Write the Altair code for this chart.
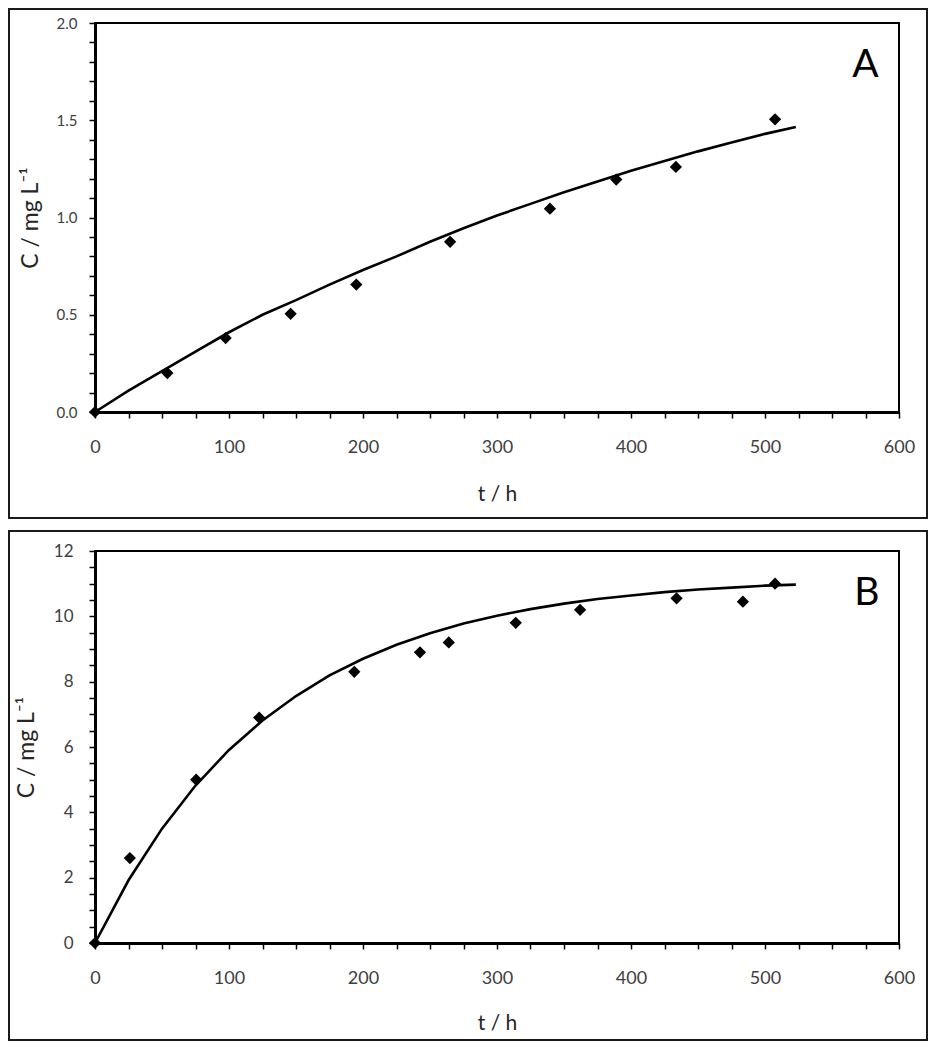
import altair as alt
import pandas as pd

# ---------------- data ----------------
A_t = [0, 54, 97.5, 146, 195, 265, 339.5, 389, 433.5, 507.5]
A_c = [0, 0.20, 0.38, 0.505, 0.655, 0.875, 1.045, 1.195, 1.26, 1.505]

A_fit_t = [0, 25, 50, 75, 100, 125, 150, 175, 200, 225, 250, 275, 300, 325, 350,
           375, 400, 425, 450, 475, 500, 523]
A_fit_c = [0, 0.11, 0.21, 0.31, 0.41, 0.50, 0.575, 0.655, 0.73, 0.80, 0.875, 0.945,
           1.01, 1.07, 1.13, 1.185, 1.24, 1.29, 1.34, 1.385, 1.43, 1.465]

B_t = [0, 26, 75.5, 122.5, 193.5, 242.5, 264, 314, 362, 434, 483.5, 507.5]
B_c = [0, 2.6, 5.0, 6.9, 8.3, 8.9, 9.2, 9.8, 10.2, 10.55, 10.45, 11.0]

B_fit_t = [0, 25, 50, 75, 100, 125, 150, 175, 200, 225, 250, 275, 300, 325, 350,
           375, 400, 425, 450, 475, 500, 523]
B_fit_c = [0, 1.92, 3.50, 4.82, 5.91, 6.81, 7.56, 8.19, 8.70, 9.13, 9.48, 9.78,
           10.02, 10.22, 10.39, 10.53, 10.64, 10.74, 10.82, 10.88, 10.94, 10.97]

X_TICKS = [0, 25, 50, 75, 100, 125, 150, 175, 200, 225, 250, 275, 300, 325, 350,
           375, 400, 425, 450, 475, 500, 525, 550, 575, 600]
A_Y_TICKS = [0.0, 0.1, 0.2, 0.3, 0.4, 0.5, 0.6, 0.7, 0.8, 0.9, 1.0, 1.1, 1.2, 1.3,
             1.4, 1.5, 1.6, 1.7, 1.8, 1.9, 2.0]
B_Y_TICKS = [0, 0.5, 1, 1.5, 2, 2.5, 3, 3.5, 4, 4.5, 5, 5.5, 6, 6.5, 7, 7.5, 8, 8.5,
             9, 9.5, 10, 10.5, 11, 11.5, 12]

PANEL_LABELS = ["A", "B"]
LABEL_T = [575, 576]
LABEL_C = [1.72, 10.35]

FONT = "Lato"
LABEL_COLOR = "#404040"
TITLE_COLOR = "#262626"

W = 804


def panel(pt, pc, ft, fc, ymax, yticks, ylabel_expr, ylab_size, ylab_pad,
          height, title_x, title_y, label, lt, lc, box_y, box_y2):
    pts = pd.DataFrame({"t": pt, "C": pc})
    fit = pd.DataFrame({"t": ft, "C": fc})
    lab = pd.DataFrame({"t": [lt], "C": [lc], "label": [label]})
    one = pd.DataFrame({"k": [0]})

    xscale = alt.Scale(domain=[0, 600], nice=False, zero=False)
    yscale = alt.Scale(domain=[0, ymax], nice=False, zero=True)

    xaxis = alt.Axis(
        values=X_TICKS, tickCount=200,
        labelExpr="datum.value % 100 == 0 ? datum.label : ''",
        grid=False, tickSize=6, tickWidth=1.5, tickColor="black",
        domainColor="black", domainWidth=3,
        labelFont=FONT, labelFontSize=18, labelColor=LABEL_COLOR,
        labelPadding=20, labelFlush=False, labelOverlap=False,
        title="t / h", titleFont=FONT, titleFontSize=21,
        titleFontWeight="normal", titleColor=TITLE_COLOR,
        titleX=W / 2, titleY=title_y, titleBaseline="alphabetic",
        titleAlign="center",
    )
    yaxis = alt.Axis(
        values=yticks, tickCount=200,
        labelExpr=ylabel_expr,
        grid=False, tickSize=6, tickWidth=1.5, tickColor="black",
        domainColor="black", domainWidth=3,
        labelFont=FONT, labelFontSize=ylab_size, labelColor=LABEL_COLOR,
        labelPadding=ylab_pad, labelFlush=False, labelOverlap=False,
        title="C / mg L⁻¹", titleFont=FONT, titleFontSize=23,
        titleFontWeight="normal", titleColor=TITLE_COLOR,
        titleX=title_x, titleY=height / 2, titleBaseline="alphabetic",
        titleAlign="center", titleAngle=270,
    )

    box = alt.Chart(one).mark_rect(
        fillOpacity=0, stroke="#1a1a1a", strokeWidth=2
    ).encode(
        x=alt.value(-86), x2=alt.value(832),
        y=alt.value(box_y), y2=alt.value(box_y2),
    )

    line = alt.Chart(fit).mark_line(color="black", strokeWidth=2.6).encode(
        x=alt.X("t:Q", scale=xscale, axis=xaxis),
        y=alt.Y("C:Q", scale=yscale, axis=yaxis),
    )
    points = alt.Chart(pts).mark_point(
        shape="diamond", filled=True, size=150, color="black", opacity=1
    ).encode(
        x=alt.X("t:Q", scale=xscale),
        y=alt.Y("C:Q", scale=yscale),
    )
    text = alt.Chart(lab).mark_text(
        font=FONT, fontSize=39, color="black", align="center",
        baseline="alphabetic"
    ).encode(
        x=alt.X("t:Q", scale=xscale),
        y=alt.Y("C:Q", scale=yscale),
        text="label:N",
    )
    return alt.layer(box, line, points, text).properties(width=W, height=height)


top = panel(A_t, A_c, A_fit_t, A_fit_c, 2.0, A_Y_TICKS,
            "datum.value % 0.5 == 0 ? format(datum.value, '.1f') : ''",
            15, 12, 389, -58, 88, PANEL_LABELS[0], LABEL_T[0], LABEL_C[0], -14, 495)
bottom = panel(B_t, B_c, B_fit_t, B_fit_c, 12, B_Y_TICKS,
               "datum.value % 2 == 0 ? format(datum.value, 'd') : ''",
               17, 16, 392, -62, 86, PANEL_LABELS[1], LABEL_T[1], LABEL_C[1], -20, 489)

chart = alt.vconcat(top, bottom, spacing=139, bounds="flush").properties(
    autosize=alt.AutoSizeParams(type="none"),
    padding={"left": 87, "top": 15, "right": 29, "bottom": 1019},
    background="white",
).configure_view(stroke="black", strokeWidth=2)

chart.save("out.html", embed_options={"renderer": "svg", "actions": False})
